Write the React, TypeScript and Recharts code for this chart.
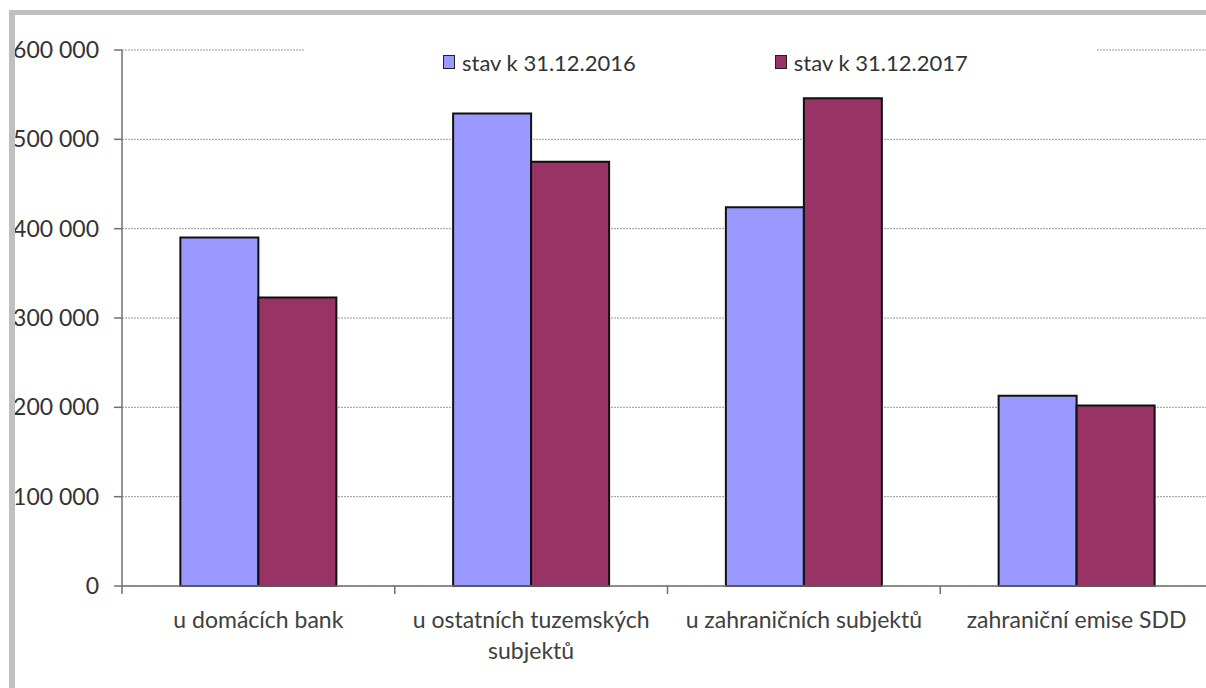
import React from "react"
import { Bar, BarChart, CartesianGrid, Legend, XAxis, YAxis } from "recharts"

const categories = [
  "u domácích bank",
  "u ostatních tuzemských subjektů",
  "u zahraničních subjektů",
  "zahraniční emise SDD",
]
const stav2016 = [390000, 529000, 424000, 213000]
const stav2017 = [323000, 475000, 546000, 202000]
const yTicks = [0, 100000, 200000, 300000, 400000, 500000, 600000]

const series = [
  { key: "s2016", name: "stav k 31.12.2016", color: "#9999ff", values: stav2016 },
  { key: "s2017", name: "stav k 31.12.2017", color: "#993366", values: stav2017 },
]

const data = categories.map((name, i) => {
  const row: any = { name }
  series.forEach((s) => (row[s.key] = s.values[i]))
  return row
})

const FONT = "Lato, 'Noto Sans', sans-serif"

const formatThousands = (v: number) => String(v).replace(/\B(?=(\d{3})+(?!\d))/g, " ")

// long labels break before the last word, like the original
const splitLabel = (label: string) => {
  if (label.length <= 26) return [label]
  const cut = label.lastIndexOf(" ")
  return [label.slice(0, cut), label.slice(cut + 1)]
}

const CategoryTick = (props: any) => {
  const { x, y, payload, width } = props
  const half = payload.offset ?? width / (2 * categories.length)
  const lines = splitLabel(payload.value)
  return (
    <g>
      <line x1={x - half} x2={x - half} y1={y} y2={y + 8} stroke="#707070" strokeWidth={1.5} />
      <text x={x} y={y + 34} textAnchor="middle" fill="#404040" fontSize={23} fontFamily={FONT}>
        {lines.map((l, i) => (
          <tspan key={i} x={x} dy={i === 0 ? "0.35em" : 31}>
            {l}
          </tspan>
        ))}
      </text>
    </g>
  )
}

const LegendContent = () => (
  <div
    style={{
      background: "#fff",
      height: 44,
      display: "flex",
      alignItems: "center",
      paddingLeft: 139,
      fontFamily: FONT,
      fontSize: 22,
      color: "#333",
    }}
  >
    {series.map((s, i) => (
      <div key={s.key} style={{ display: "flex", alignItems: "center", marginLeft: i === 0 ? 0 : 139 }}>
        <span
          style={{
            display: "inline-block",
            width: 10,
            height: 12,
            background: s.color,
            border: "1.5px solid #222",
            marginRight: 7,
          }}
        />
        <span>{s.name}</span>
      </div>
    ))}
  </div>
)

export default function App() {
  return (
    <div style={{ position: "fixed", top: 10, left: 9, width: 1197, height: 678, overflow: "hidden" }}>
      <style>{"html, body { overflow: hidden; }"}</style>
      <div
        style={{
          borderTop: "5px solid #c0c0c0",
          borderLeft: "6px solid #c0c0c0",
          width: 1191,
          height: 673,
          overflow: "hidden",
          background: "#fff",
        }}
      >
        <BarChart
          width={1203}
          height={660}
          data={data}
          margin={{ top: 35, right: 5, bottom: 29, left: 0 }}
          barCategoryGap="21.4%"
          barGap={0}
          style={{ fontFamily: FONT }}
        >
          <CartesianGrid vertical={false} stroke="#9a9a9a" strokeDasharray="2 1" />
          <XAxis
            dataKey="name"
            height={60}
            interval={0}
            tickSize={0}
            tickMargin={0}
            tickLine={false}
            axisLine={{ stroke: "#707070", strokeWidth: 1.5 }}
            tick={<CategoryTick />}
          />
          <YAxis
            width={107}
            domain={[0, 600000]}
            ticks={yTicks}
            interval={0}
            tickSize={8}
            tickMargin={15}
            tickFormatter={formatThousands}
            axisLine={{ stroke: "#707070", strokeWidth: 1.5 }}
            tickLine={{ stroke: "#707070", strokeWidth: 1.5 }}
            tick={{ fill: "#333", fontSize: 23, fontFamily: FONT }}
          />
          <Legend
            layout="horizontal"
            verticalAlign="middle"
            content={<LegendContent />}
            wrapperStyle={{ position: "absolute", top: 25, left: 289, width: 793, height: 44 }}
          />
          {series.map((s) => (
            <Bar
              key={s.key}
              dataKey={s.key}
              name={s.name}
              fill={s.color}
              stroke="#111"
              strokeWidth={2}
              isAnimationActive={false}
            />
          ))}
        </BarChart>
      </div>
    </div>
  )
}
